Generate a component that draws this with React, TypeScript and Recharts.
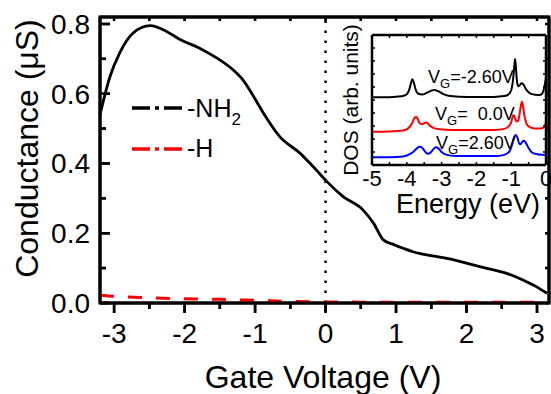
import React from 'react';
import * as Recharts from 'recharts';
import { LineChart, Line, XAxis, YAxis, ReferenceLine } from 'recharts';

const FONT = '"Liberation Sans", Arial, Helvetica, sans-serif';

// main panel: conductance (uS) vs gate voltage (V)
const gateVoltage = [
  -3.2, -3.06, -2.92, -2.73, -2.49, -2.25, -2.07, -1.78, -1.54, -1.31, -1.17, -1.0, -0.88,
  -0.65, -0.36, -0.13, 0.02, 0.25, 0.53, 0.68, 0.82, 0.96, 1.1, 1.24, 1.58, 1.72, 2.19, 2.57,
  2.8, 2.99, 3.14,
];
const conductanceNH2 = [
  0.54, 0.648, 0.717, 0.774, 0.795, 0.778, 0.756, 0.73, 0.702, 0.668, 0.639, 0.585, 0.544,
  0.477, 0.429, 0.381, 0.348, 0.305, 0.267, 0.229, 0.181, 0.168, 0.157, 0.147, 0.133, 0.128,
  0.104, 0.085, 0.066, 0.047, 0.028,
];
const gateVoltageH = [-3.2, -3.0, -2.5, -2.0, -1.5, -1.0, -0.5, 0, 0.5, 1.0, 1.5, 2.0, 2.5, 3.0, 3.17];
const conductanceH = [
  0.022, 0.019, 0.015, 0.012, 0.0105, 0.0075, 0.0045, 0.003, 0.0025, 0.002, 0.002, 0.002,
  0.002, 0.002, 0.002,
];

const gateDomain = [-3.2, 3.17];
const conductanceDomain = [0, 0.82];
const gateTicks = [-3, -2.5, -2, -1.5, -1, -0.5, 0, 0.5, 1, 1.5, 2, 2.5, 3];
const conductanceTicks = [0, 0.1, 0.2, 0.3, 0.4, 0.5, 0.6, 0.7, 0.8];

// inset: DOS (arb. units, curves stacked) vs energy (eV)
const energyNeg = [
  -5, -4.5, -4.15, -4.0, -3.93, -3.88, -3.84, -3.8, -3.75, -3.68, -3.55, -3.4, -3.28, -3.2,
  -3.1, -2.95, -2.8, -2.5, -2, -1.5, -1.2, -1.07, -1.0, -0.95, -0.91, -0.89, -0.87, -0.84,
  -0.8, -0.75, -0.7, -0.65, -0.58, -0.5, -0.4, -0.3, -0.2, -0.12, -0.07, -0.03, 0,
];
const dosNeg = [
  5.21, 5.22, 5.28, 5.45, 5.8, 6.3, 6.6, 6.35, 5.85, 5.5, 5.42, 5.58, 5.74, 5.77, 5.68, 5.45,
  5.32, 5.25, 5.23, 5.24, 5.3, 5.45, 5.75, 6.5, 7.6, 8.15, 7.7, 6.6, 6.05, 6.15, 6.28, 6.2,
  5.85, 5.6, 5.45, 5.4, 5.38, 5.45, 5.75, 6.25, 6.67,
];
const energyZero = [
  -5, -4.5, -4.1, -3.95, -3.85, -3.78, -3.73, -3.68, -3.62, -3.56, -3.5, -3.44, -3.38, -3.3,
  -3.2, -3.0, -2.7, -2.3, -2, -1.5, -1.2, -1.08, -1.0, -0.96, -0.93, -0.89, -0.84, -0.8, -0.76,
  -0.72, -0.69, -0.66, -0.62, -0.57, -0.5, -0.4, -0.3, -0.2, -0.12, -0.06, -0.02, 0,
];
const dosZero = [
  2.56, 2.58, 2.65, 2.85, 3.2, 3.6, 3.72, 3.5, 3.18, 3.15, 3.22, 3.26, 3.15, 2.95, 2.82, 2.74,
  2.7, 2.69, 2.69, 2.7, 2.78, 2.95, 3.3, 3.7, 3.85, 3.6, 3.35, 3.4, 3.9, 4.6, 4.87, 4.5, 3.8,
  3.25, 2.98, 2.85, 2.8, 2.8, 2.82, 2.9, 3.1, 3.33,
];
const energyPos = [
  -5, -4.5, -4.1, -3.9, -3.78, -3.7, -3.64, -3.61, -3.56, -3.48, -3.4, -3.32, -3.24, -3.17,
  -3.1, -3.0, -2.85, -2.6, -2.2, -1.8, -1.4, -1.2, -1.05, -0.97, -0.92, -0.87, -0.82, -0.77,
  -0.73, -0.68, -0.63, -0.58, -0.5, -0.42, -0.35, -0.25, -0.1, 0,
];
const dosPos = [
  0.59, 0.6, 0.66, 0.85, 1.1, 1.3, 1.4, 1.41, 1.33, 1.05, 0.87, 0.95, 1.2, 1.36, 1.3, 1.0,
  0.78, 0.7, 0.69, 0.69, 0.7, 0.78, 1.05, 1.6, 2.1, 2.31, 2.1, 1.65, 1.6, 1.8, 1.87, 1.7, 1.3,
  1.0, 0.9, 0.83, 0.78, 0.77,
];

const energyTicks = [-5, -4.5, -4, -3.5, -3, -2.5, -2, -1.5, -1, -0.5, 0];
const dosTicks = [0, 1, 2, 3, 4, 5, 6, 7, 8, 9, 10];

const rows = (xs: number[], ys: number[]) => xs.map((x, i) => ({ x, y: ys[i] }));

const AXIS = { stroke: '#000', strokeWidth: 3 };
const TICK = { stroke: '#000', strokeWidth: 2.5 };
const MIRROR_TICK = { stroke: '#000', strokeWidth: 2 };
const INSET_AXIS = { stroke: '#000', strokeWidth: 2.5 };
const INSET_TICK = { stroke: '#000', strokeWidth: 1.5 };

const R: any = Recharts;

// plot rectangle from the chart's own layout (hooks exist in recharts 3)
function usePlotRect() {
  if (typeof R.usePlotArea === 'function') return R.usePlotArea();
  if (typeof R.useOffset === 'function') {
    const o = R.useOffset();
    return o ? { x: o.left, y: o.top, width: 551 - o.left - o.right, height: 394 - o.top - o.bottom } : null;
  }
  return { x: 100, y: 17, width: 449, height: 286 };
}

// frame + major/minor ticks on all four sides of the main panel
function PlotFrame() {
  const area = usePlotRect();
  if (!area || !area.width) return null;
  const { x, y, width, height } = area;
  const sx = (v: number) => x + ((v - gateDomain[0]) / (gateDomain[1] - gateDomain[0])) * width;
  const sy = (v: number) =>
    y + height - ((v - conductanceDomain[0]) / (conductanceDomain[1] - conductanceDomain[0])) * height;
  let d = '';
  gateTicks.forEach((v) => {
    const major = Number.isInteger(v);
    d += `M${sx(v)},${y + height}v${major ? 10 : 6}M${sx(v)},${y}v4`;
  });
  conductanceTicks.forEach((v) => {
    const major = Math.round(v * 10) % 2 === 0;
    d += `M${x},${sy(v)}h${major ? 10 : 6}M${x + width},${sy(v)}h-4`;
  });
  return (
    <g>
      <rect x={x} y={y} width={width} height={height} fill="none" stroke="#000" strokeWidth={3} />
      <path d={d} stroke="#000" strokeWidth={2.5} fill="none" />
    </g>
  );
}

// --- tick labels; tick lines come from the axes (negative tickSize = inward) ---
function GateTick({ x, y, payload }: any) {
  const v = payload.value;
  if (!Number.isInteger(v)) return <g />;
  return (
    <g>
      <path d={`M${x},${y}v4`} stroke="#000" strokeWidth={2.5} />
      <text x={x} y={y + 34} textAnchor="middle" fontSize={28} fontFamily={FONT} fill="#000">
        {v}
      </text>
    </g>
  );
}

function ConductanceTick({ x, y, payload }: any) {
  const v = payload.value;
  if (Math.round(v * 10) % 2 !== 0) return <g />;
  return (
    <g>
      <path d={`M${x},${y}h4`} stroke="#000" strokeWidth={2.5} />
      <text x={x - 16} y={y + 10} textAnchor="end" fontSize={28} fontFamily={FONT} fill="#000">
        {v.toFixed(1)}
      </text>
    </g>
  );
}

function EnergyTick({ x, y, payload }: any) {
  const v = payload.value;
  if (!Number.isInteger(v)) return <g />;
  return (
    <text x={x} y={y + 24} textAnchor="middle" fontSize={22} fontFamily={FONT} fill="#000">
      {v}
    </text>
  );
}

function NoLabel() {
  return <g />;
}

// --- inset axis titles ---
function BottomTitle({ viewBox, text, size, dx = 0, baseline }: any) {
  const vb = viewBox || { x: 0, y: 0, width: 0, height: 0 };
  return (
    <text
      x={vb.x + vb.width / 2 + dx}
      y={vb.y + baseline}
      textAnchor="middle"
      fontSize={size}
      fontFamily={FONT}
      fill="#000"
    >
      {text}
    </text>
  );
}

function SideTitle({ viewBox, text, size, offsetX, dy = 0 }: any) {
  const vb = viewBox || { x: 0, y: 0, width: 0, height: 0 };
  const cx = vb.x + offsetX;
  const cy = vb.y + vb.height / 2 + dy;
  return (
    <text
      x={cx}
      y={cy}
      transform={`rotate(-90 ${cx} ${cy})`}
      textAnchor="middle"
      dominantBaseline="central"
      fontSize={size}
      fontFamily={FONT}
      fill="#000"
    >
      {text}
    </text>
  );
}

function DosInset() {
  return (
    <div style={{ position: 'absolute', left: 330, top: 25 }}>
      <LineChart width={221} height={200} margin={{ top: 9, right: 4, bottom: 0, left: 0 }}>
        <XAxis
          xAxisId="energy"
          type="number"
          dataKey="x"
          domain={[-5, 0]}
          ticks={energyTicks}
          interval={0}
          tickSize={-3}
          tickMargin={0}
          tickLine={INSET_TICK}
          tick={<EnergyTick />}
          axisLine={INSET_AXIS}
          height={60}
          label={<BottomTitle text="Energy (eV)" size={27} dx={9} baseline={48} />}
        />
        <XAxis
          xAxisId="energyTop"
          orientation="top"
          type="number"
          dataKey="x"
          domain={[-5, 0]}
          ticks={energyTicks}
          interval={0}
          tickSize={-3}
          tickMargin={0}
          tickLine={INSET_TICK}
          tick={<NoLabel />}
          axisLine={INSET_AXIS}
          height={1}
        />
        <YAxis
          yAxisId="dos"
          type="number"
          domain={[0, 10]}
          ticks={dosTicks}
          interval={0}
          tickSize={-3}
          tickMargin={0}
          tickLine={INSET_TICK}
          tick={<NoLabel />}
          axisLine={INSET_AXIS}
          width={42}
          label={<SideTitle text="DOS (arb. units)" size={21} offsetX={20} />}
        />
        <YAxis
          yAxisId="dosRight"
          orientation="right"
          type="number"
          domain={[0, 10]}
          ticks={dosTicks}
          interval={0}
          tickSize={-3}
          tickMargin={0}
          tickLine={INSET_TICK}
          tick={<NoLabel />}
          axisLine={INSET_AXIS}
          width={1}
        />
        <Line xAxisId="energy" yAxisId="dos" data={rows(energyNeg, dosNeg)} dataKey="y" type="monotone" stroke="#000000" strokeWidth={2} dot={false} isAnimationActive={false} />
        {/* same domains, bound to the mirror axes */}
        <Line xAxisId="energyTop" yAxisId="dosRight" data={rows(energyZero, dosZero)} dataKey="y" type="monotone" stroke="#ff0000" strokeWidth={2} dot={false} isAnimationActive={false} />
        <Line xAxisId="energy" yAxisId="dos" data={rows(energyPos, dosPos)} dataKey="y" type="monotone" stroke="#0000ff" strokeWidth={2} dot={false} isAnimationActive={false} />
      </LineChart>
    </div>
  );
}

function Annotations() {
  const vg = (x: number, y: number, rest: string) => (
    <text x={x} y={y} fontSize={18} fontFamily={FONT} fill="#000" style={{ whiteSpace: 'pre' }}>
      V
      <tspan fontSize={13} dy={5}>
        G
      </tspan>
      <tspan dy={-5}>{rest}</tspan>
    </text>
  );
  return (
    <svg
      width={551}
      height={394}
      style={{ position: 'absolute', left: 0, top: 0, pointerEvents: 'none' }}
    >
      {/* main axis titles */}
      <text x={323} y={388} textAnchor="middle" fontSize={32} fontFamily={FONT} fill="#000">
        Gate Voltage (V)
      </text>
      <text
        x={27}
        y={148.5}
        transform="rotate(-90 27 148.5)"
        textAnchor="middle"
        dominantBaseline="central"
        fontSize={32}
        fontFamily={FONT}
        fill="#000"
      >
        Conductance (μS)
      </text>
      {/* legend */}
      <line x1={132} x2={182} y1={108} y2={108} stroke="#000" strokeWidth={3.5} strokeDasharray="18 5 4 5 18" />
      <text x={187} y={117} fontSize={25} fontFamily={FONT} fill="#000">
        -NH
        <tspan fontSize={17} dy={8}>
          2
        </tspan>
      </text>
      <line x1={132} x2={182} y1={149} y2={149} stroke="#ff0000" strokeWidth={3.5} strokeDasharray="18 5 4 5 18" />
      <text x={187} y={157} fontSize={25} fontFamily={FONT} fill="#000">
        -H
      </text>
      {/* inset curve labels */}
      {vg(428, 83, '=-2.60V')}
      {vg(435, 120, '=  0.0V')}
      {vg(436, 149, '=2.60V')}
    </svg>
  );
}

function ConductancePanel() {
  return (
    <div style={{ position: 'absolute', left: 0, top: 0 }}>
      <LineChart width={551} height={394} margin={{ top: 16, right: 1, bottom: 0, left: 0 }}>
        <XAxis
          xAxisId="gate"
          type="number"
          dataKey="x"
          domain={gateDomain}
          ticks={gateTicks}
          interval={0}
          tickSize={6}
          tickMargin={0}
          tickLine={TICK}
          tick={<GateTick />}
          axisLine={AXIS}
          height={91}
        />
        <XAxis
          xAxisId="gateTop"
          orientation="top"
          type="number"
          dataKey="x"
          domain={gateDomain}
          ticks={gateTicks}
          interval={0}
          tickSize={-4}
          tickMargin={0}
          tickLine={MIRROR_TICK}
          tick={<NoLabel />}
          axisLine={AXIS}
          height={1}
        />
        <YAxis
          yAxisId="cond"
          type="number"
          domain={conductanceDomain}
          ticks={conductanceTicks}
          interval={0}
          tickSize={-6}
          tickMargin={0}
          tickLine={TICK}
          tick={<ConductanceTick />}
          axisLine={AXIS}
          width={100}
        />
        <YAxis
          yAxisId="condRight"
          orientation="right"
          type="number"
          domain={conductanceDomain}
          ticks={conductanceTicks}
          interval={0}
          tickSize={-4}
          tickMargin={0}
          tickLine={MIRROR_TICK}
          tick={<NoLabel />}
          axisLine={AXIS}
          width={1}
        />
        <PlotFrame />
        <ReferenceLine xAxisId="gate" yAxisId="cond" x={0} stroke="#000" strokeWidth={2.5} strokeDasharray="2.5 7.5" />
        <Line
          xAxisId="gate"
          yAxisId="cond"
          data={rows(gateVoltage, conductanceNH2)}
          dataKey="y"
          type="monotone"
          stroke="#000"
          strokeWidth={2.8}
          dot={false}
          isAnimationActive={false}
        />
        {/* same domains as the main axes; bound to the mirror axes */}
        <Line
          xAxisId="gateTop"
          yAxisId="condRight"
          data={rows(gateVoltageH, conductanceH)}
          dataKey="y"
          type="monotone"
          stroke="#ff0000"
          strokeWidth={3}
          strokeDasharray="14 14"
          dot={false}
          isAnimationActive={false}
        />
      </LineChart>
    </div>
  );
}

export default function App(): JSX.Element {
  return (
    <div
      style={{
        position: 'absolute',
        left: 0,
        top: 0,
        width: 551,
        height: 394,
        overflow: 'hidden',
        background: '#fff',
      }}
    >
      <DosInset />
      <Annotations />
      <ConductancePanel />
    </div>
  );
}
